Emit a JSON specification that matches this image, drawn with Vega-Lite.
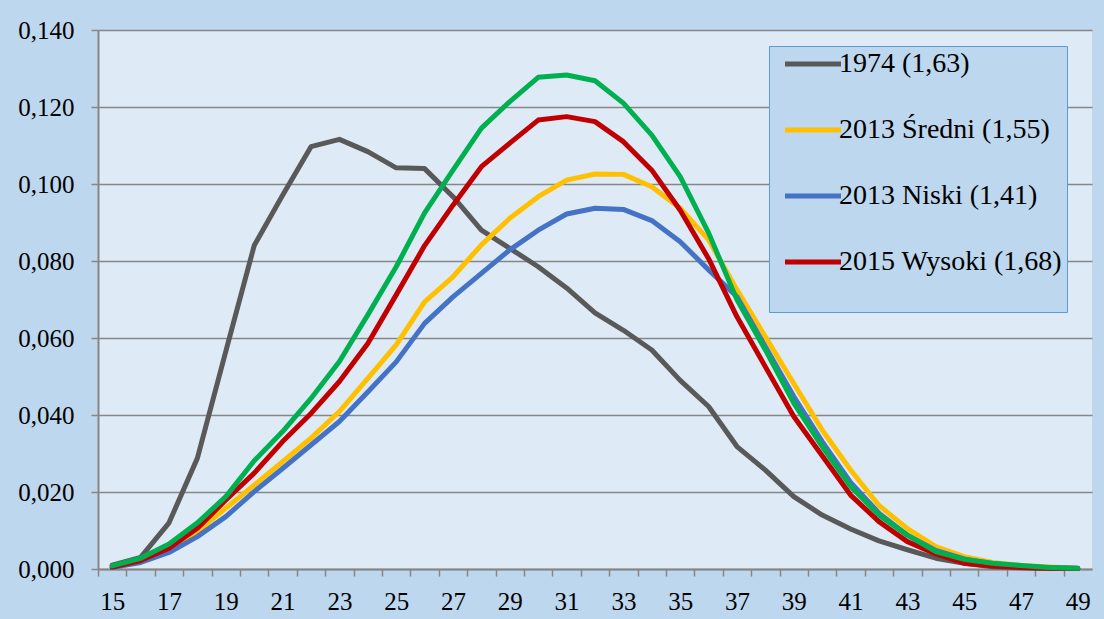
{
  "$schema": "https://vega.github.io/schema/vega-lite/v6.json",
  "width": 994,
  "height": 539,
  "autosize": "none",
  "padding": {"left": 98, "top": 30, "right": 12, "bottom": 50},
  "background": "#BDD7EE",
  "config": {"view": {"fill": "#DEEBF7", "stroke": null}, "font": "Liberation Serif"},
  "data": {"values": [
    {"age": 15, "s1974": 0.0010, "sSredni": 0.0005, "sNiski": 0.0004, "sWysoki": 0.0005, "s5": 0.0008},
    {"age": 16, "s1974": 0.0030, "sSredni": 0.0020, "sNiski": 0.0017, "sWysoki": 0.0022, "s5": 0.0028},
    {"age": 17, "s1974": 0.0120, "sSredni": 0.0049, "sNiski": 0.0043, "sWysoki": 0.0054, "s5": 0.0065},
    {"age": 18, "s1974": 0.0288, "sSredni": 0.0097, "sNiski": 0.0084, "sWysoki": 0.0106, "s5": 0.0120},
    {"age": 19, "s1974": 0.0565, "sSredni": 0.0158, "sNiski": 0.0136, "sWysoki": 0.0179, "s5": 0.0188},
    {"age": 20, "s1974": 0.0840, "sSredni": 0.0218, "sNiski": 0.0201, "sWysoki": 0.0249, "s5": 0.0281},
    {"age": 21, "s1974": 0.0971, "sSredni": 0.0279, "sNiski": 0.0261, "sWysoki": 0.0331, "s5": 0.0357},
    {"age": 22, "s1974": 0.1097, "sSredni": 0.0340, "sNiski": 0.0322, "sWysoki": 0.0404, "s5": 0.0443},
    {"age": 23, "s1974": 0.1116, "sSredni": 0.0409, "sNiski": 0.0383, "sWysoki": 0.0487, "s5": 0.0539},
    {"age": 24, "s1974": 0.1084, "sSredni": 0.0495, "sNiski": 0.0460, "sWysoki": 0.0586, "s5": 0.0660},
    {"age": 25, "s1974": 0.1042, "sSredni": 0.0582, "sNiski": 0.0538, "sWysoki": 0.0712, "s5": 0.0785},
    {"age": 26, "s1974": 0.1040, "sSredni": 0.0694, "sNiski": 0.0638, "sWysoki": 0.0840, "s5": 0.0925},
    {"age": 27, "s1974": 0.0967, "sSredni": 0.0759, "sNiski": 0.0707, "sWysoki": 0.0945, "s5": 0.1036},
    {"age": 28, "s1974": 0.0880, "sSredni": 0.0842, "sNiski": 0.0768, "sWysoki": 0.1045, "s5": 0.1145},
    {"age": 29, "s1974": 0.0833, "sSredni": 0.0911, "sNiski": 0.0829, "sWysoki": 0.1106, "s5": 0.1214},
    {"age": 30, "s1974": 0.0785, "sSredni": 0.0967, "sNiski": 0.0880, "sWysoki": 0.1166, "s5": 0.1277},
    {"age": 31, "s1974": 0.0730, "sSredni": 0.1010, "sNiski": 0.0922, "sWysoki": 0.1175, "s5": 0.1283},
    {"age": 32, "s1974": 0.0665, "sSredni": 0.1026, "sNiski": 0.0937, "sWysoki": 0.1162, "s5": 0.1268},
    {"age": 33, "s1974": 0.0620, "sSredni": 0.1025, "sNiski": 0.0934, "sWysoki": 0.1110, "s5": 0.1210},
    {"age": 34, "s1974": 0.0569, "sSredni": 0.0993, "sNiski": 0.0905, "sWysoki": 0.1036, "s5": 0.1127},
    {"age": 35, "s1974": 0.0490, "sSredni": 0.0937, "sNiski": 0.0850, "sWysoki": 0.0932, "s5": 0.1019},
    {"age": 36, "s1974": 0.0422, "sSredni": 0.0855, "sNiski": 0.0777, "sWysoki": 0.0806, "s5": 0.0873},
    {"age": 37, "s1974": 0.0318, "sSredni": 0.0725, "sNiski": 0.0707, "sWysoki": 0.0655, "s5": 0.0699},
    {"age": 38, "s1974": 0.0257, "sSredni": 0.0603, "sNiski": 0.0577, "sWysoki": 0.0525, "s5": 0.0569},
    {"age": 39, "s1974": 0.0188, "sSredni": 0.0482, "sNiski": 0.0448, "sWysoki": 0.0396, "s5": 0.0431},
    {"age": 40, "s1974": 0.0140, "sSredni": 0.0361, "sNiski": 0.0331, "sWysoki": 0.0294, "s5": 0.0318},
    {"age": 41, "s1974": 0.0104, "sSredni": 0.0257, "sNiski": 0.0225, "sWysoki": 0.0192, "s5": 0.0214},
    {"age": 42, "s1974": 0.0073, "sSredni": 0.0165, "sNiski": 0.0145, "sWysoki": 0.0123, "s5": 0.0140},
    {"age": 43, "s1974": 0.0050, "sSredni": 0.0105, "sNiski": 0.0088, "sWysoki": 0.0071, "s5": 0.0088},
    {"age": 44, "s1974": 0.0028, "sSredni": 0.0058, "sNiski": 0.0048, "sWysoki": 0.0039, "s5": 0.0045},
    {"age": 45, "s1974": 0.0015, "sSredni": 0.0032, "sNiski": 0.0026, "sWysoki": 0.0015, "s5": 0.0025},
    {"age": 46, "s1974": 0.0006, "sSredni": 0.0017, "sNiski": 0.0014, "sWysoki": 0.0008, "s5": 0.0015},
    {"age": 47, "s1974": 0.0003, "sSredni": 0.0009, "sNiski": 0.0007, "sWysoki": 0.0004, "s5": 0.0009},
    {"age": 48, "s1974": 0.0001, "sSredni": 0.0005, "sNiski": 0.0003, "sWysoki": 0.0002, "s5": 0.0004},
    {"age": 49, "s1974": 0.0001, "sSredni": 0.0002, "sNiski": 0.0002, "sWysoki": 0.0001, "s5": 0.0002}
  ]},
  "transform": [
    {"fold": ["s1974", "sSredni", "sNiski", "sWysoki", "s5"], "as": ["seria", "v"]}
  ],
  "mark": {"type": "line", "strokeWidth": 5, "strokeCap": "round", "strokeJoin": "round"},
  "encoding": {
    "x": {
      "field": "age", "type": "quantitative",
      "scale": {"domain": [14.5, 49.5], "nice": false, "zero": false},
      "axis": {
        "title": null,
        "values": [15,16,17,18,19,20,21,22,23,24,25,26,27,28,29,30,31,32,33,34,35,36,37,38,39,40,41,42,43,44,45,46,47,48,49,50],
        "tickOffset": -14.2, "labelOffset": 14.2,
        "labelExpr": "(datum.value % 2 == 1 && datum.value < 50) ? datum.value : ''",
        "grid": false,
        "domainColor": "#868686", "domainWidth": 2,
        "tickColor": "#868686", "tickWidth": 1.5, "tickSize": 7,
        "labelFontSize": 25, "labelFont": "Liberation Serif", "labelColor": "#000000",
        "labelPadding": 13, "labelFlush": false, "labelOverlap": false
      }
    },
    "y": {
      "field": "v", "type": "quantitative",
      "scale": {"domain": [0, 0.14], "nice": false},
      "axis": {
        "title": null,
        "values": [0, 0.02, 0.04, 0.06, 0.08, 0.1, 0.12, 0.14],
        "labelExpr": "replace(format(datum.value, '.3f'), '.', ',')",
        "grid": true, "gridColor": "#868686", "gridWidth": 1.5,
        "domainColor": "#868686", "domainWidth": 2,
        "tickColor": "#868686", "tickWidth": 1.5, "tickSize": 7,
        "labelFontSize": 25, "labelFont": "Liberation Serif", "labelColor": "#000000",
        "labelPadding": 17
      }
    },
    "color": {
      "field": "seria", "type": "nominal", "sort": null,
      "scale": {
        "domain": ["s1974", "sSredni", "sNiski", "sWysoki", "s5"],
        "range": ["#595959", "#FFC000", "#4472C4", "#C00000", "#00B050"]
      },
      "legend": {
        "values": ["s1974", "sSredni", "sNiski", "sWysoki"],
        "labelExpr": "datum.value == 's1974' ? '1974 (1,63)' : datum.value == 'sSredni' ? '2013 Średni (1,55)' : datum.value == 'sNiski' ? '2013 Niski (1,41)' : '2015 Wysoki (1,68)'",
        "orient": "none", "legendX": 671, "legendY": 16,
        "title": " ", "titleOrient": "bottom", "titleFontSize": 20, "titlePadding": 12,
        "symbolType": "M-2.8,0H2.8", "symbolStrokeWidth": 5, "symbolSize": 400,
        "labelFontSize": 28, "labelFont": "Liberation Serif", "labelColor": "#000000", "labelLimit": 400,
        "labelOffset": 12, "symbolOffset": 26,
        "fillColor": "#BDD7EE", "strokeColor": "#5B9BD5",
        "padding": 4, "rowPadding": 38
      }
    }
  }
}
